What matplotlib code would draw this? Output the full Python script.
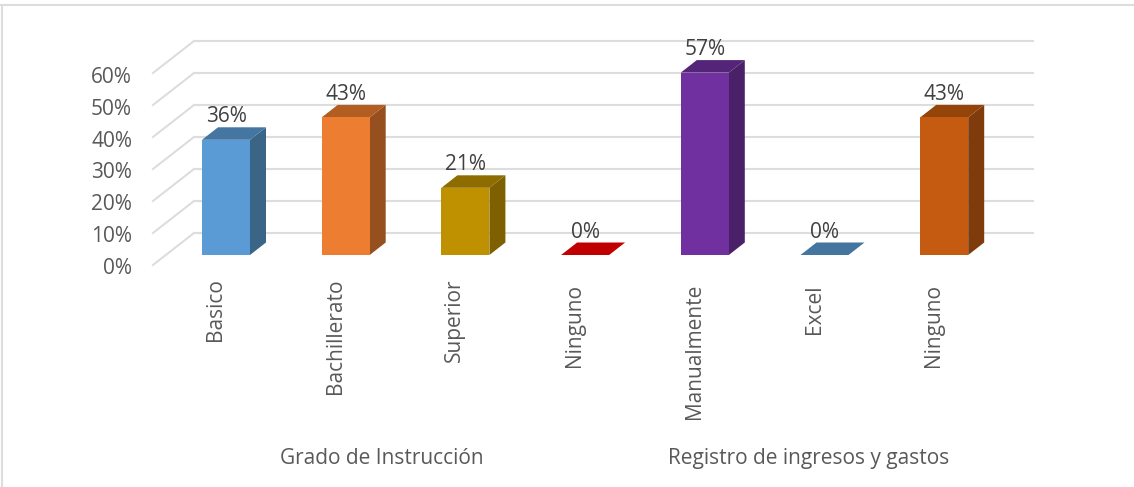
import matplotlib
matplotlib.use('Agg')
import matplotlib.pyplot as plt
from matplotlib.patches import Polygon
from matplotlib.lines import Line2D

plt.rcParams['font.family'] = ['Open Sans', 'DejaVu Sans']

categories = ['Basico', 'Bachillerato', 'Superior', 'Ninguno', 'Manualmente', 'Excel', 'Ninguno']
values = [36, 43, 21, 0, 57, 0, 43]
groups = ['Grado de Instrucción', 'Registro de ingresos y gastos']
group_centers = [1.30, 4.87]
yticks = [0, 10, 20, 30, 40, 50, 60]

front_colors = ['#5B9BD5', '#ED7D31', '#BF9000', '#C00000', '#7030A0', '#44759F', '#C55A11']
side_colors = ['#3A6587', '#96501F', '#7F6000', '#800000', '#4A2069', '#2F5270', '#7F3B0B']
top_colors = ['#4575A1', '#B25E23', '#8F6C00', '#C00000', '#542478', '#44759F', '#944409']

# one unit on x is one category, one unit on y is one percent
PX_X = 119.7
PX_Y = 3.2
W, H = 1134, 487
X0, Y0 = 226, 255
FONT = 15

fig = plt.figure(figsize=(W / 100, H / 100), dpi=100, facecolor='white')
ax = fig.add_axes([0, 0, 1, 1])
ax.set_xlim(-X0 / PX_X, (W - X0) / PX_X)
ax.set_ylim((Y0 - H) / PX_Y, Y0 / PX_Y)
ax.axis('off')

half = 24 / PX_X
depth_x = 16 / PX_X
depth_y = 12.5 / PX_Y

# back wall lines and slanted side wall
grid_color = '#DDDDDD'
wall_left = -32 / PX_X
wall_right = 807 / PX_X
wall_front = -73 / PX_X
back_lift = 22 / PX_Y
front_drop = -10 / PX_Y
for t in yticks:
    ax.plot([wall_left, wall_right], [t + back_lift, t + back_lift], color=grid_color, lw=1.5, zorder=1)
    ax.plot([wall_front, wall_left], [t + front_drop, t + back_lift], color=grid_color, lw=1.5, zorder=1)
    ax.text(-94 / PX_X, t * 3.167 / PX_Y - 13 / PX_Y, f'{t}%', ha='right', va='center',
            fontsize=FONT, color='#595959')

for i, v in enumerate(values):
    l, r = i - half, i + half
    ax.add_patch(Polygon([(r, 0), (r + depth_x, depth_y), (r + depth_x, v + depth_y), (r, v)],
                         facecolor=side_colors[i], edgecolor='none', zorder=2))
    ax.add_patch(Polygon([(l, v), (l + depth_x, v + depth_y), (r + depth_x, v + depth_y), (r, v)],
                         facecolor=top_colors[i], edgecolor='none', zorder=2))
    ax.bar(i, v, width=2 * half, color=front_colors[i], linewidth=0, zorder=3)
    ax.text(i, v + 23 / PX_Y, f'{v}%', ha='center', va='center', fontsize=FONT, color='#404040', zorder=4)

    top_gap = 23 if i < 3 else 29
    ax.text(i - 10.5 / PX_X, -top_gap / PX_Y, categories[i], rotation=90, ha='center', va='top',
            fontsize=FONT, color='#595959')

for name, c in zip(groups, group_centers):
    ax.text(c, -209 / PX_Y, name, ha='center', va='baseline', fontsize=FONT, color='#595959')

# chart frame, only the top and left sides show
fig.add_artist(Line2D([2 / W, 2 / W], [0, 1 - 5 / H], color=grid_color, lw=1.5))
fig.add_artist(Line2D([0, 1], [1 - 5 / H, 1 - 5 / H], color=grid_color, lw=1.5))

fig.savefig('out.png', dpi=100, facecolor='white')
